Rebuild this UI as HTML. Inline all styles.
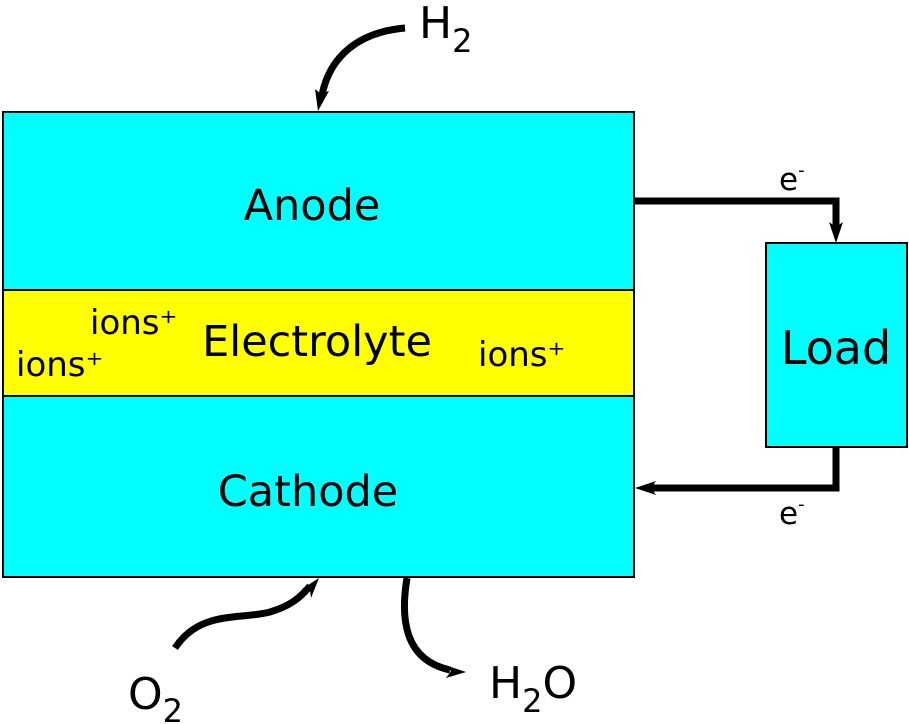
<!DOCTYPE html>
<html><head><meta charset="utf-8"><style>
html,body{margin:0;padding:0;background:#fff;}
svg{display:block;}
text{font-family:"DejaVu Sans","Liberation Sans",sans-serif;fill:#000;}
</style></head><body>
<svg width="909" height="724" viewBox="0 0 909 724" xmlns="http://www.w3.org/2000/svg">
<rect x="3" y="112" width="631" height="178" fill="#00ffff" stroke="#000" stroke-width="2"/>
<rect x="3" y="290" width="631" height="106" fill="#ffff00" stroke="#000" stroke-width="2"/>
<rect x="3" y="396" width="631" height="181" fill="#00ffff" stroke="#000" stroke-width="2"/>
<rect x="766" y="243" width="141" height="204" fill="#00ffff" stroke="#000" stroke-width="2"/>

<text x="312" y="220" text-anchor="middle" style="font-size:43px">Anode</text>
<text x="317" y="356" text-anchor="middle" style="font-size:43px">Electrolyte</text>
<text x="308" y="506" text-anchor="middle" style="font-size:43px">Cathode</text>
<text x="836" y="364" text-anchor="middle" style="font-size:46px">Load</text>
<text x="90" y="334" style="font-size:34px">ions⁺</text>
<text x="16" y="376" style="font-size:34px">ions⁺</text>
<text x="478" y="366" style="font-size:34px">ions⁺</text>
<text x="779" y="190" style="font-size:31px">e<tspan style="font-size:18px" dy="-14">-</tspan></text>
<text x="779" y="524" style="font-size:31px">e<tspan style="font-size:18px" dy="-14">-</tspan></text>

<text x="419" y="38" style="font-size:44px">H<tspan style="font-size:32px" dy="14">2</tspan></text>
<text x="128" y="709" style="font-size:44px">O<tspan style="font-size:32px" dy="13">2</tspan></text>
<text x="489" y="698" style="font-size:44px">H<tspan style="font-size:32px" dy="14">2</tspan><tspan style="font-size:44px" dy="-14">O</tspan></text>

<g fill="none" stroke="#000" stroke-width="7">
<path d="M634,201 H836 V228"/>
<path d="M836,447 V488 H650"/>
<path d="M405,28 C360,32 330,55 322,95"/>
<path d="M175,648 C200,610 240,620 270,612 C290,606 300,598 310,586"/>
<path d="M407,578 C400,620 405,660 450,670"/>
</g>
<g fill="#000">
<path d="M836,243 L829,222 L836,227 L843,222 Z"/>
<path d="M635,488 L656,481 L651,488 L656,495 Z"/>
<path d="M318,111 L315,89 L321,94 L329,91 Z"/>
<path d="M319,578 L311,598 L310,590 L302,589 Z"/>
<path d="M466,672 L445,665 L451,671 L446,678 Z"/>
</g>
</svg>
</body></html>
